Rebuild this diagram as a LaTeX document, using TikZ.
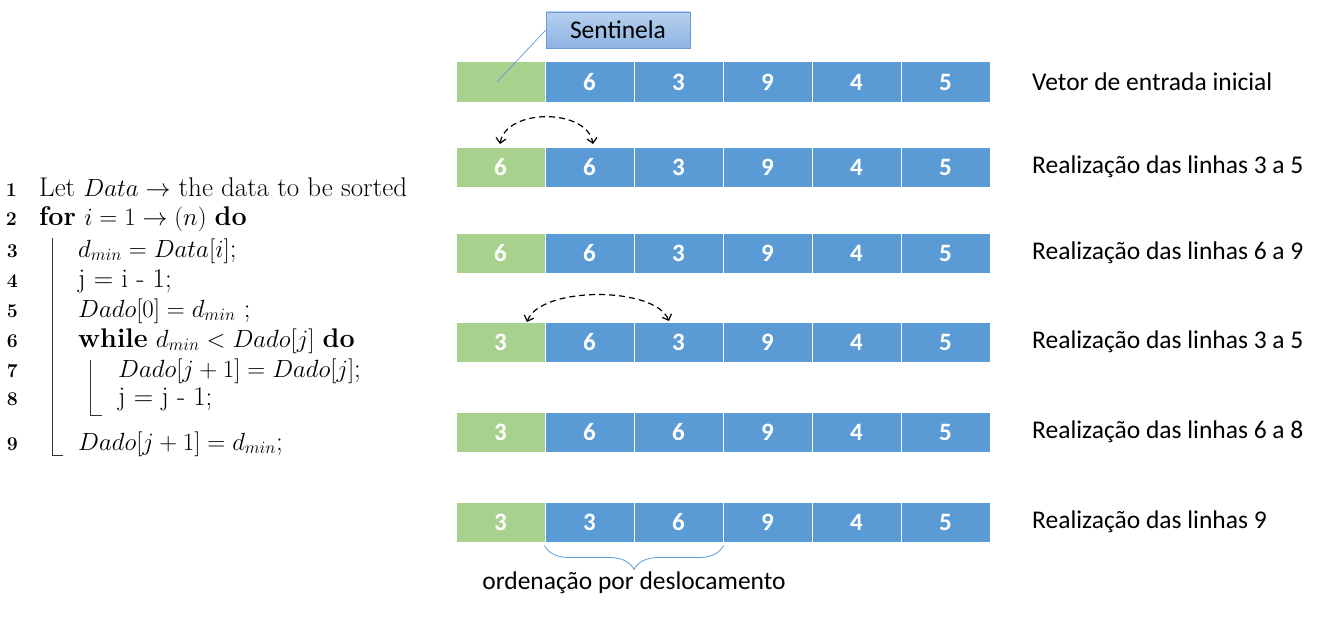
\documentclass[tikz,border=0pt]{standalone}
\usepackage{fontspec}
\usetikzlibrary{arrows.meta,decorations.pathreplacing,shadings}
\newfontfamily\calib{Carlito}
\definecolor{cgreen}{HTML}{A9D18E}
\definecolor{cblue}{HTML}{5B9BD5}
\definecolor{cbtop}{HTML}{B7D0EE}
\definecolor{cbbot}{HTML}{8DB3E2}
\definecolor{cbdraw}{HTML}{6A9BD6}
\tikzset{
  cell/.style={minimum width=89pt,minimum height=40pt,inner sep=0pt,draw=white,line width=1pt,
    text=white,font=\calib\bfseries\fontsize{25}{28}\selectfont},
  gcell/.style={cell,fill=cgreen},
  bcell/.style={cell,fill=cblue},
  lbl/.style={font=\calib\fontsize{25.5}{28}\selectfont},
  rowlab/.style={lbl,anchor=west,inner sep=0pt},
  algo/.style={anchor=base west,inner sep=0pt,font=\fontsize{27}{31}\selectfont},
  lnum/.style={anchor=base east,inner sep=0pt,font=\bfseries\fontsize{19.5}{22}\selectfont},
  swap/.style={dash pattern=on 6pt off 4pt,line width=1.2pt,{Straight Barb[length=5pt,width=10pt]}-{Straight Barb[length=5pt,width=10pt]}},
  vbar/.style={line width=0.6pt,black!80}
}
\begin{document}
\begin{tikzpicture}[x=1pt,y=-1pt]
\useasboundingbox (0,0) rectangle (1323,626);
% rows
\foreach \r/\y/\a/\b/\c/\d/\e/\f/\lab in {
  1/82/{}/6/3/9/4/5/{Vetor de entrada inicial},
  2/167/6/6/3/9/4/5/{Realização das linhas 3 a 5},
  3/253/6/6/3/9/4/5/{Realização das linhas 6 a 9},
  4/342/3/6/3/9/4/5/{Realização das linhas 3 a 5},
  5/432/3/6/6/9/4/5/{Realização das linhas 6 a 8},
  6/522/3/3/6/9/4/5/{Realização das linhas 9}}{
  \node[gcell] (r\r c0) at (500.5,\y) {\a};
  \node[bcell] (r\r c1) at (589.5,\y) {\b};
  \node[bcell] (r\r c2) at (678.5,\y) {\c};
  \node[bcell] (r\r c3) at (767.5,\y) {\d};
  \node[bcell] (r\r c4) at (856.5,\y) {\e};
  \node[bcell] (r\r c5) at (945.5,\y) {\f};
  \node[rowlab] (lab\r) at (1032,\y) {\lab};
}
% sentinela
\node[lbl,draw=cbdraw,top color=cbtop,bottom color=cbbot,minimum width=144pt,minimum height=36pt,inner sep=0pt] (sent) at (618,30) {Sentinela};
\coordinate (sentp) at (497,82);
\draw[cblue,line width=0.7pt] (sent.west) -- (sentp);
% swaps
\coordinate (s1r) at (593,144);
\coordinate (s1l) at (500,144);
\draw[swap] (s1l) .. controls (506,108) and (587,108) .. (s1r);
\coordinate (s2r) at (669,321);
\coordinate (s2l) at (527,322);
\draw[swap] (s2l) .. controls (540,286) and (655,286) .. (s2r);
% brace
\draw[cblue,line width=0.8pt,decorate,decoration={brace,mirror,amplitude=24pt,raise=3pt}]
  (r6c1.south west) -- (r6c2.south east);
\node[lbl,inner sep=0pt] (ord) at (634,583) {ordenação por deslocamento};
% algorithm
\node[lnum] (n1) at (17,196) {1};
\node[algo] (l1) at (39,196) {Let $Data \rightarrow$ the data to be sorted};
\node[lnum] (n2) at (17,225) {2};
\node[algo] (l2) at (39,225) {\textbf{for} $i = 1 \rightarrow (n)$ \textbf{do}};
\node[lnum] (n3) at (18,257) {3};
\node[algo] (l3) at (78,257) {$d_{min} = Data[i]$;};
\node[lnum] (n4) at (18,287) {4};
\node[algo] (l4) at (78,287) {j = i - 1;};
\node[lnum] (n5) at (18,317) {5};
\node[algo] (l5) at (78,317) {$Dado[0] = d_{min}$ ;};
\node[lnum] (n6) at (18,347) {6};
\node[algo] (l6) at (78,347) {\textbf{while} $d_{min} < Dado[j]$ \textbf{do}};
\node[lnum] (n7) at (18,377) {7};
\node[algo] (l7) at (118,377) {$Dado[j+1] = Dado[j]$;};
\node[lnum] (n8) at (18,405) {8};
\node[algo] (l8) at (118,405) {j = j - 1;};
\node[lnum] (n9) at (18,450) {9};
\node[algo] (l9) at (78,450) {$Dado[j+1] = d_{min}$;};
\coordinate (b1t) at (52,238);
\coordinate (b1b) at (52,455);
\coordinate (b1h) at (63,455);
\draw[vbar] (b1t) -- (b1b) -- (b1h);
\coordinate (b2t) at (90,360);
\coordinate (b2b) at (90,415);
\coordinate (b2h) at (102,415);
\draw[vbar] (b2t) -- (b2b) -- (b2h);
\end{tikzpicture}
\end{document}
